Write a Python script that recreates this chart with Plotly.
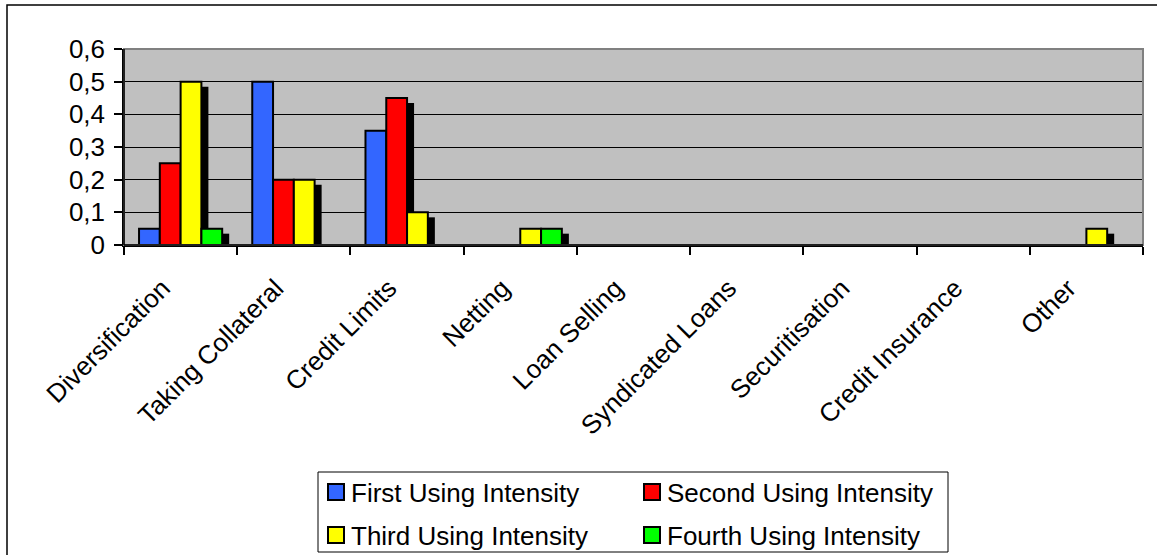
import plotly.graph_objects as go

# ---------------- data ----------------
categories = ["Diversification", "Taking Collateral", "Credit Limits", "Netting",
              "Loan Selling", "Syndicated Loans", "Securitisation",
              "Credit Insurance", "Other"]
first_using = [0.05, 0.50, 0.35, 0.00, 0, 0, 0, 0, 0.00]
second_using = [0.25, 0.20, 0.45, 0.00, 0, 0, 0, 0, 0.00]
third_using = [0.50, 0.20, 0.10, 0.05, 0, 0, 0, 0, 0.05]
fourth_using = [0.05, 0.00, 0.00, 0.05, 0, 0, 0, 0, 0.00]
series_names = ["First Using Intensity", "Second Using Intensity",
                "Third Using Intensity", "Fourth Using Intensity"]
y_ticks = [0, 0.1, 0.2, 0.3, 0.4, 0.5, 0.6]

# ---------------- style ----------------
colors = ["#3366FF", "#FF0000", "#FFFF00", "#00FF00"]
FONT = "Liberation Sans, Arial, sans-serif"
FS = 26
W, H = 1157, 555
L, R, T, B = 124, 1143, 49, 245          # plot area in pixels
BAR_W = 0.1836
START = -2 * BAR_W
SH_DX = 7 / 113.0                         # shadow offset (category units)
SH_DY = 5 / 196.0 * 0.6                   # shadow drop (value units)

series = [first_using, second_using, third_using, fourth_using]

fig = go.Figure()

# shadows (drawn first, behind the bars); the first series shows none
for j, vals in enumerate(series):
    if j == 0:
        continue
    fig.add_trace(go.Bar(
        x=categories, y=[max(v - SH_DY, 0) for v in vals],
        width=BAR_W, offset=START + j * BAR_W + SH_DX,
        marker=dict(color="black", line=dict(width=0)),
        showlegend=False, hoverinfo="skip"))

for j, vals in enumerate(series):
    fig.add_trace(go.Bar(
        x=categories, y=vals, name=series_names[j],
        width=BAR_W, offset=START + j * BAR_W,
        marker=dict(color=colors[j], line=dict(color="black", width=2)),
        showlegend=False))


def px(xp):
    return (xp - L) / (R - L)


def py(yp):
    return (B - yp) / (B - T)


shapes = []
annotations = []
# outer chart frame (only left/top edges fall inside the picture)
shapes.append(dict(type="rect", xref="paper", yref="paper",
                   x0=px(7), x1=px(1175), y0=py(5), y1=py(575),
                   line=dict(color="black", width=1.5), fillcolor="rgba(0,0,0,0)",
                   layer="below"))
# plot-area top/right gray frame
shapes.append(dict(type="rect", xref="paper", yref="paper",
                   x0=0, x1=1, y0=0, y1=1,
                   line=dict(color="#808080", width=2), layer="above"))
# re-draw the black left/bottom axis lines over the gray frame
shapes.append(dict(type="line", xref="paper", yref="paper", x0=0, x1=0, y0=0, y1=1,
                   line=dict(color="black", width=1.5), layer="above"))
shapes.append(dict(type="line", xref="paper", yref="paper", x0=0, x1=1, y0=0, y1=0,
                   line=dict(color="black", width=1.5), layer="above"))

# legend box
shapes.append(dict(type="rect", xref="paper", yref="paper",
                   x0=px(318), x1=px(948), y0=py(472), y1=py(552),
                   line=dict(color="black", width=1), fillcolor="white"))
leg_pos = [(327, 492), (643, 492), (327, 535), (643, 535)]
for j, (lx, ly) in enumerate(leg_pos):
    shapes.append(dict(type="rect", xref="paper", yref="paper",
                       x0=px(lx + 1), x1=px(lx + 17), y0=py(ly - 8), y1=py(ly + 8),
                       line=dict(color="black", width=2), fillcolor=colors[j]))
    annotations.append(dict(xref="paper", yref="paper", x=px(lx + 22), y=py(ly + 1),
                            xanchor="left", yanchor="middle", showarrow=False,
                            text=series_names[j],
                            font=dict(family=FONT, size=FS, color="black")))

fig.update_layout(
    width=W, height=H, autosize=False,
    margin=dict(l=L, r=W - R, t=T, b=H - B, pad=0),
    paper_bgcolor="white", plot_bgcolor="#C0C0C0",
    barmode="overlay", separators=",.",
    font=dict(family=FONT, size=FS, color="black"),
    showlegend=False,
    shapes=shapes, annotations=annotations,
    xaxis=dict(type="category", categoryorder="array", categoryarray=categories,
               tickangle=-45, tickson="boundaries", ticks="outside", ticklen=8,
               tickcolor="black", tickwidth=1.5, showgrid=False,
               showline=True, linecolor="black", linewidth=1.5,
               ticklabelstandoff=16, ticklabelshift=-18,
               tickfont=dict(family=FONT, size=FS, color="black")),
    yaxis=dict(range=[0, 0.6], tickvals=y_ticks, ticks="outside", ticklen=8,
               tickcolor="black", tickwidth=1.5, showgrid=True, gridcolor="black",
               gridwidth=1, zeroline=False, showline=True, linecolor="black",
               linewidth=1.5, ticklabelstandoff=4,
               tickfont=dict(family=FONT, size=FS, color="black")),
)

# remove the browser's default 8px page margin so the figure fills the window
fig.write_html("out.html", config={"displayModeBar": False},
               post_script="document.body.style.margin='0px';")
